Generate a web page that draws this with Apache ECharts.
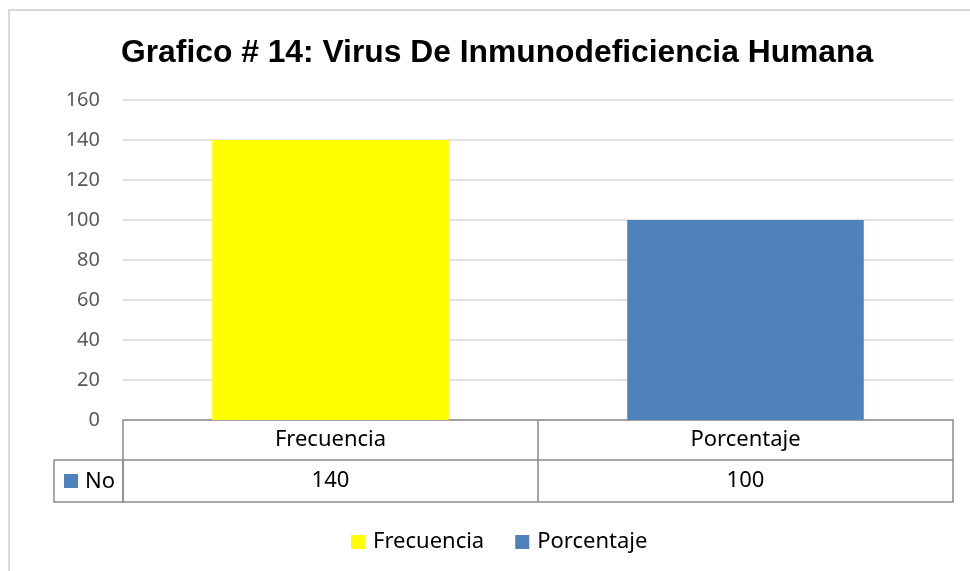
<!DOCTYPE html>
<html>
<head>
<meta charset="utf-8">
<script src="https://cdn.jsdelivr.net/npm/echarts@6/dist/echarts.min.js"></script>
<style>
  html, body { margin: 0; padding: 0; background: #fff; }
  #main { width: 970px; height: 571px; }
</style>
</head>
<body>
<div id="main"></div>
<script>
// datos del grafico
const categorias = ['Frecuencia', 'Porcentaje']
const valoresNo = [140, 100]
const colores = ['#FFFF00', '#4F81BD']
const filaNombre = 'No'

const chart = echarts.init(document.getElementById('main'))
const fuente = '"Noto Sans", sans-serif'
const gris = '#8c8c8c'

// una serie por categoria para que la leyenda muestre ambas
const series = categorias.map(function (nombre, i) {
	return {
		name: nombre,
		type: 'bar',
		stack: 'total',
		barWidth: '57%',
		itemStyle: { color: colores[i] },
		data: valoresNo.map(function (v, j) { return j === i ? v : '-' })
	}
})

const option = {
	backgroundColor: '#fff',
	animation: false,
	title: {
		text: 'Grafico # 14: Virus De Inmunodeficiencia Humana',
		left: 116,
		top: 32,
		textStyle: {
			fontFamily: '"Liberation Sans", Arial, sans-serif',
			fontWeight: 'bold',
			fontSize: 31.8,
			color: '#000'
		}
	},
	legend: {
		data: categorias,
		left: 346,
		top: 526,
		icon: 'rect',
		itemWidth: 14,
		itemHeight: 14,
		itemGap: 31,
		textStyle: { fontFamily: fuente, fontSize: 22, color: '#000', padding: [0, 0, 0, 3] }
	},
	grid: { left: 123, right: 17, top: 100, bottom: 151 },
	xAxis: [
		{
			type: 'category',
			data: categorias,
			axisLine: { lineStyle: { color: gris, width: 1.5 } },
			axisTick: { show: true, interval: 0, length: 82, lineStyle: { color: gris, width: 1.5 } },
			axisLabel: { margin: 9, fontFamily: fuente, fontSize: 22, color: '#000' }
		},
		{
			type: 'category',
			data: categorias,
			position: 'bottom',
			offset: 40,
			axisLine: { lineStyle: { color: gris, width: 1.5 } },
			axisTick: { show: false },
			axisLabel: {
				margin: 10,
				fontFamily: fuente,
				fontSize: 22,
				color: '#000',
				formatter: function (v, i) { return String(valoresNo[i]) }
			}
		},
		{
			type: 'category',
			data: categorias,
			position: 'bottom',
			offset: 82,
			axisLine: { lineStyle: { color: gris, width: 1.5 } },
			axisTick: { show: false },
			axisLabel: { show: false }
		}
	],
	yAxis: {
		type: 'value',
		min: 0,
		max: 160,
		interval: 20,
		axisLine: { show: false },
		axisTick: { show: false },
		axisLabel: { margin: 23, fontFamily: fuente, fontSize: 20, color: '#595959' },
		splitLine: { lineStyle: { color: '#d9d9d9', width: 1.5 } }
	},
	graphic: [
		{
			type: 'rect',
			shape: { x: 9, y: 10, width: 1000, height: 600 },
			style: { fill: 'none', stroke: '#d9d9d9', lineWidth: 2 },
			silent: true
		},
		{
			type: 'rect',
			shape: { x: 54, y: 460, width: 69, height: 42 },
			style: { fill: 'none', stroke: gris, lineWidth: 1.5 }
		},
		{
			type: 'rect',
			shape: { x: 64, y: 474, width: 14, height: 14 },
			style: { fill: colores[1] }
		},
		{
			type: 'text',
			x: 85,
			y: 482,
			style: { text: filaNombre, font: '22px "Noto Sans", sans-serif', fill: '#000', verticalAlign: 'middle' }
		}
	],
	series: series
}

chart.setOption(option)
</script>
</body>
</html>
